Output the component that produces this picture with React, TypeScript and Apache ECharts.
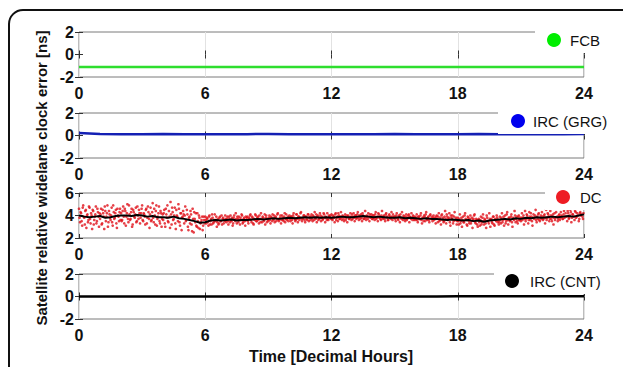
import React, { useEffect, useRef } from "react";
import * as echarts from "echarts";

const HOURS = [0, 1, 2, 3, 4, 5, 6, 7, 8, 9, 10, 11, 12, 13, 14, 15, 16, 17, 18, 19, 20, 21, 22, 23, 24];
const X_TICKS = [0, 6, 12, 18, 24];

const FCB = [-1.1, -1.1, -1.1, -1.1, -1.1, -1.1, -1.1, -1.1, -1.1, -1.1, -1.1, -1.1, -1.1, -1.1, -1.1, -1.1, -1.1, -1.1, -1.1, -1.1, -1.1, -1.1, -1.1, -1.1, -1.1];
const IRC_GRG = [0.22, 0.13, 0.12, 0.12, 0.13, 0.12, 0.11, 0.12, 0.12, 0.13, 0.12, 0.12, 0.11, 0.12, 0.12, 0.13, 0.12, 0.12, 0.12, 0.13, 0.12, 0.12, 0.11, 0.12, 0.13];
const IRC_CNT = [0.0, 0.01, 0.0, 0.0, 0.01, 0.0, 0.0, 0.01, 0.0, 0.0, 0.01, 0.0, 0.0, 0.01, 0.0, 0.01, 0.0, 0.01, 0.03, 0.02, 0.03, 0.02, 0.03, 0.02, 0.03];

const DC_MEAN_STEP = 0.25;
const DC_MEAN = [
  4.0, 3.9, 3.85, 3.9,
  3.95, 3.8, 3.85, 3.95,
  4.0, 4.0, 3.95, 4.05,
  4.0, 3.9, 3.95, 3.85,
  3.85, 3.8, 3.9, 3.75,
  3.7, 3.6, 3.5, 3.35,
  3.4, 3.55, 3.6, 3.55,
  3.6, 3.65, 3.55, 3.6,
  3.6, 3.65, 3.7, 3.65,
  3.7, 3.75, 3.7, 3.75,
  3.8, 3.75, 3.8, 3.85,
  3.8, 3.85, 3.8, 3.85,
  3.8, 3.85, 3.9, 3.85,
  3.85, 3.9, 3.95, 3.9,
  3.85, 3.9, 3.85, 3.8,
  3.8, 3.85, 3.75, 3.8,
  3.75, 3.7, 3.75, 3.7,
  3.7, 3.65, 3.6, 3.65,
  3.6, 3.55, 3.6, 3.5,
  3.55, 3.45, 3.55, 3.6,
  3.65, 3.7, 3.65, 3.75,
  3.7, 3.8, 3.75, 3.85,
  3.8, 3.85, 3.9, 3.85,
  3.9, 3.95, 3.9, 4.0,
  4.1,
];

// red DC samples, one row per hour, 20 samples per hour (every 3 min)
const DC_SCATTER_STEP = 0.05;
const DC_SCATTER_A = [
  [4.6, 3.4, 4.2, 3.1, 4.9, 3.8, 4.4, 2.9, 4.1, 3.6, 4.7, 3.3, 4.0, 4.5, 3.2, 3.9, 4.8, 3.5, 4.3, 3.0],
  [3.7, 4.6, 3.3, 4.2, 2.8, 4.4, 3.9, 4.9, 3.4, 4.1, 3.6, 4.7, 3.1, 4.3, 3.8, 4.5, 2.9, 4.0, 3.5, 4.6],
  [4.2, 3.6, 4.8, 3.3, 4.4, 3.9, 5.0, 3.4, 4.1, 3.7, 4.6, 3.2, 4.3, 3.8, 4.7, 3.5, 4.0, 4.5, 3.3, 4.2],
  [4.9, 3.5, 4.1, 3.2, 4.6, 3.8, 4.3, 2.9, 4.7, 3.6, 5.1, 3.4, 4.0, 4.4, 3.1, 3.9, 4.8, 3.3, 4.2, 3.7],
  [3.6, 4.5, 3.0, 4.1, 4.9, 3.4, 3.9, 5.2, 3.2, 4.3, 3.7, 4.7, 2.8, 4.0, 3.5, 4.6, 3.1, 4.2, 3.8, 4.4],
  [3.3, 4.8, 3.6, 4.1, 2.7, 3.9, 4.4, 3.2, 4.6, 2.5, 3.7, 4.2, 3.0, 3.5, 4.0, 2.8, 3.4, 3.9, 3.1, 3.6],
  [3.9, 3.3, 3.7, 3.1, 4.0, 3.5, 3.2, 3.8, 3.4, 4.1, 3.6, 3.0, 3.7, 3.3, 3.9, 3.5, 3.2, 3.8, 3.6, 4.0],
  [3.4, 3.9, 3.2, 3.7, 4.0, 3.5, 3.1, 3.8, 3.6, 4.2, 3.3, 3.7, 3.9, 3.2, 3.6, 4.0, 3.4, 3.8, 3.1, 3.6],
  [3.9, 3.3, 3.7, 4.1, 3.4, 3.8, 3.2, 3.6, 4.0, 3.5, 3.9, 3.3, 3.7, 4.2, 3.4, 3.8, 3.6, 3.2, 4.0, 3.7],
  [3.5, 4.0, 3.3, 3.8, 4.1, 3.6, 3.4, 3.9, 3.7, 4.2, 3.5, 3.8, 3.3, 4.0, 3.6, 3.9, 3.4, 4.1, 3.7, 3.5],
  [4.0, 3.5, 3.9, 3.3, 4.2, 3.7, 3.6, 4.1, 3.4, 3.9, 3.8, 4.3, 3.5, 3.7, 4.0, 3.4, 3.9, 3.6, 4.1, 3.8],
  [3.6, 4.1, 3.5, 3.9, 4.3, 3.7, 3.4, 4.0, 3.8, 4.2, 3.5, 3.9, 3.7, 4.1, 3.4, 3.8, 4.2, 3.6, 3.9, 4.0],
  [4.1, 3.6, 3.9, 3.4, 4.2, 3.8, 3.5, 4.0, 3.7, 4.3, 3.6, 3.9, 3.5, 4.1, 3.8, 3.4, 4.0, 3.7, 4.2, 3.6],
  [3.7, 4.2, 3.5, 4.0, 3.8, 4.3, 3.6, 3.9, 4.1, 3.5, 4.0, 3.7, 4.4, 3.6, 3.9, 4.2, 3.5, 3.8, 4.1, 3.7],
  [4.0, 3.6, 4.3, 3.8, 3.5, 4.1, 3.9, 3.6, 4.4, 3.7, 4.0, 3.5, 4.2, 3.8, 3.6, 4.1, 3.9, 4.3, 3.6, 3.8],
  [3.9, 3.5, 4.2, 3.7, 4.0, 3.4, 3.8, 4.3, 3.6, 3.9, 3.5, 4.1, 3.7, 4.0, 3.4, 3.8, 4.2, 3.6, 3.9, 3.7],
  [3.6, 4.1, 3.4, 3.9, 3.7, 4.2, 3.3, 3.8, 4.0, 3.5, 4.3, 3.6, 3.9, 3.4, 4.1, 3.7, 3.5, 4.0, 3.8, 3.3],
  [4.0, 3.4, 4.2, 3.6, 3.2, 4.1, 3.8, 3.5, 4.4, 3.3, 3.9, 3.7, 4.2, 3.1, 3.8, 4.0, 3.5, 4.3, 3.6, 3.2],
  [3.8, 3.2, 4.1, 3.5, 3.0, 3.9, 3.4, 4.2, 3.6, 3.1, 3.8, 3.3, 4.0, 3.5, 2.9, 3.7, 4.1, 3.3, 3.6, 3.0],
  [3.7, 3.1, 3.9, 3.4, 4.1, 3.2, 3.6, 2.9, 3.8, 3.5, 4.2, 3.0, 3.7, 3.3, 3.9, 3.1, 3.6, 4.0, 3.4, 3.2],
  [3.9, 3.3, 4.2, 3.6, 3.1, 4.0, 3.5, 4.3, 3.2, 3.8, 3.6, 4.1, 3.0, 3.7, 4.4, 3.4, 3.9, 3.3, 4.0, 3.6],
  [3.5, 4.2, 3.8, 3.2, 4.4, 3.7, 4.0, 3.3, 4.3, 3.6, 3.9, 3.1, 4.1, 3.8, 4.5, 3.4, 3.7, 4.2, 3.5, 4.0],
  [4.3, 3.6, 4.0, 3.3, 4.5, 3.8, 4.1, 3.5, 4.4, 3.7, 3.9, 3.2, 4.2, 3.8, 4.6, 3.5, 4.0, 3.6, 4.3, 3.9],
  [3.7, 4.4, 3.9, 4.6, 3.5, 4.2, 3.8, 4.5, 3.4, 4.1, 4.7, 3.6, 4.3, 3.9, 4.8, 3.5, 4.2, 4.0, 4.6, 3.7],
];
// second set of samples, half a step later in each hour
const DC_SCATTER_B = [
  [3.8, 4.3, 3.5, 4.7, 3.9, 3.2, 4.5, 4.0, 3.4, 4.8, 3.7, 4.2, 2.8, 4.4, 3.6, 4.1, 3.3, 4.6, 3.9, 4.2],
  [4.1, 3.2, 4.5, 3.9, 4.8, 3.5, 4.2, 3.0, 4.4, 3.8, 4.0, 3.4, 4.9, 3.7, 4.2, 3.3, 4.6, 3.9, 4.3, 3.6],
  [3.5, 4.4, 3.9, 4.6, 3.1, 4.2, 3.7, 4.9, 3.6, 4.3, 3.0, 4.5, 3.9, 4.1, 3.4, 4.8, 3.7, 4.2, 3.8, 4.6],
  [3.6, 4.2, 3.9, 4.5, 3.3, 4.8, 3.7, 4.1, 3.5, 4.3, 3.8, 4.6, 3.2, 4.9, 3.7, 4.2, 3.5, 4.4, 3.0, 4.1],
  [4.2, 3.3, 4.6, 3.8, 3.5, 4.4, 2.9, 4.1, 4.7, 3.6, 4.0, 3.3, 4.5, 3.9, 5.0, 3.4, 4.2, 2.7, 3.9, 4.1],
  [4.0, 3.5, 4.5, 3.0, 3.8, 3.3, 4.1, 2.6, 3.7, 4.3, 3.4, 3.1, 4.2, 2.9, 3.8, 3.3, 3.6, 2.7, 3.9, 3.3],
  [3.6, 3.8, 3.4, 3.9, 3.2, 3.7, 4.1, 3.3, 3.6, 3.5, 3.9, 3.4, 3.2, 3.8, 3.5, 4.0, 3.7, 3.3, 3.5, 3.7],
  [3.7, 3.5, 3.9, 3.4, 3.6, 3.8, 3.3, 4.0, 3.5, 3.7, 3.9, 3.4, 3.6, 3.8, 4.1, 3.3, 3.7, 3.5, 3.9, 3.8],
  [3.5, 3.8, 4.0, 3.6, 3.9, 3.3, 3.7, 4.1, 3.5, 3.8, 3.6, 4.0, 3.4, 3.7, 3.9, 3.5, 4.1, 3.8, 3.4, 3.6],
  [3.8, 3.6, 3.9, 3.5, 3.7, 4.0, 3.8, 3.5, 4.1, 3.6, 3.7, 4.0, 3.6, 3.8, 3.5, 4.2, 3.7, 3.6, 3.9, 3.8],
  [3.7, 3.9, 3.6, 4.0, 3.8, 3.5, 4.1, 3.7, 3.9, 3.6, 4.2, 3.7, 3.8, 4.0, 3.6, 3.9, 3.7, 4.1, 3.5, 3.9],
  [3.9, 3.7, 4.0, 3.6, 3.8, 4.1, 3.9, 3.6, 3.7, 4.0, 3.8, 3.6, 4.2, 3.8, 3.9, 3.6, 3.7, 4.0, 3.8, 3.7],
  [3.7, 4.0, 3.8, 4.1, 3.6, 3.9, 4.2, 3.7, 3.9, 3.8, 4.0, 3.7, 3.9, 3.6, 4.0, 3.9, 3.7, 3.8, 3.9, 4.1],
  [3.9, 3.8, 4.0, 3.7, 4.1, 3.8, 4.0, 3.7, 3.8, 4.2, 3.7, 3.9, 3.8, 4.0, 3.7, 3.9, 4.1, 3.9, 3.7, 4.0],
  [3.8, 4.1, 3.7, 3.9, 4.2, 3.8, 3.7, 4.0, 3.8, 3.9, 3.7, 4.1, 3.9, 3.6, 4.0, 3.8, 3.7, 3.9, 4.1, 3.9],
  [3.7, 4.0, 3.8, 3.6, 3.9, 4.1, 3.7, 3.8, 4.0, 3.7, 3.9, 3.6, 3.8, 4.1, 3.9, 3.7, 3.8, 4.0, 3.6, 3.9],
  [3.8, 3.6, 3.9, 3.7, 4.0, 3.6, 3.8, 3.5, 3.9, 4.1, 3.7, 3.8, 3.6, 4.0, 3.7, 3.9, 3.8, 3.6, 3.7, 3.9],
  [3.7, 3.9, 3.5, 3.8, 4.0, 3.6, 3.4, 3.9, 3.7, 4.1, 3.6, 3.8, 3.4, 4.0, 3.7, 3.3, 3.9, 3.6, 3.8, 3.5],
  [3.5, 3.7, 3.3, 3.8, 3.6, 3.4, 4.0, 3.7, 3.2, 3.9, 3.5, 3.7, 3.3, 3.8, 3.6, 4.0, 3.4, 3.7, 3.2, 3.6],
  [3.4, 3.6, 3.2, 3.8, 3.5, 3.7, 3.3, 4.0, 3.5, 3.3, 3.7, 3.6, 3.4, 3.9, 3.2, 3.7, 3.5, 3.8, 3.6, 3.4],
  [3.6, 3.8, 3.4, 3.9, 3.7, 3.3, 4.1, 3.6, 3.8, 3.5, 3.9, 3.4, 3.8, 3.6, 4.0, 3.7, 3.5, 3.9, 3.6, 3.8],
  [3.8, 3.6, 4.0, 3.7, 3.5, 4.1, 3.8, 3.6, 3.9, 4.2, 3.5, 3.8, 3.7, 4.0, 3.6, 3.9, 4.1, 3.6, 3.8, 3.7],
  [3.9, 3.7, 4.1, 3.8, 3.6, 4.2, 3.9, 3.7, 4.0, 3.5, 4.1, 3.8, 3.6, 4.3, 3.9, 3.7, 4.1, 3.8, 4.0, 3.7],
  [4.1, 3.8, 4.2, 3.9, 4.4, 3.7, 4.0, 4.3, 3.8, 4.1, 3.9, 4.4, 3.8, 4.2, 4.0, 3.7, 4.3, 4.1, 3.9, 4.2],
];

const FONT = "'Liberation Sans', Arial, Helvetica, sans-serif";
const GRID_TOPS = [32, 113, 193, 274];
const GRID_LEFT = 79;
const GRID_WIDTH = 505;
const GRID_HEIGHT = 45;
const Y_RANGES = [
  [-2, 2],
  [-2, 2],
  [2, 6],
  [-2, 2],
];

export default function App() {
  const ref = useRef<HTMLDivElement>(null);

  useEffect(() => {
    if (!ref.current) return;
    const chart = echarts.init(ref.current, undefined, { renderer: "svg" });

    const grids = GRID_TOPS.map((top) => ({
      left: GRID_LEFT,
      top,
      width: GRID_WIDTH,
      height: GRID_HEIGHT,
      show: true,
      borderColor: "#7a7a7a",
      borderWidth: 1,
      backgroundColor: "transparent",
      containLabel: false,
    }));

    const xAxes: any[] = [];
    const yAxes: any[] = [];
    GRID_TOPS.forEach((_, i) => {
      xAxes.push({
        type: "value",
        gridIndex: i,
        position: "bottom",
        min: X_TICKS[0],
        max: X_TICKS[X_TICKS.length - 1],
        interval: 6,
        axisLine: { show: false },
        axisTick: { show: true, inside: true, length: 4, lineStyle: { color: "#333" } },
        axisLabel: { show: true, margin: 8, color: "#111", fontSize: 16, fontWeight: "bold", fontFamily: FONT },
        splitLine: { show: true, lineStyle: { color: "#e2e2e2", width: 1 } },
      });
      xAxes.push({
        type: "value",
        gridIndex: i,
        position: "top",
        min: X_TICKS[0],
        max: X_TICKS[X_TICKS.length - 1],
        interval: 6,
        axisLine: { show: false },
        axisTick: { show: true, inside: true, length: 4, lineStyle: { color: "#333" } },
        axisLabel: { show: false },
        splitLine: { show: false },
      });
      const [mn, mx] = Y_RANGES[i];
      yAxes.push({
        type: "value",
        gridIndex: i,
        position: "left",
        min: mn,
        max: mx,
        interval: 2,
        axisLine: { show: false },
        axisTick: { show: true, inside: true, length: 4, lineStyle: { color: "#333" } },
        axisLabel: { show: true, margin: 5, color: "#111", fontSize: 16, fontWeight: "bold", fontFamily: FONT },
        splitLine: { show: false },
      });
      yAxes.push({
        type: "value",
        gridIndex: i,
        position: "right",
        min: mn,
        max: mx,
        interval: 2,
        axisLine: { show: false },
        axisTick: { show: true, inside: true, length: 4, lineStyle: { color: "#333" } },
        axisLabel: { show: false },
        splitLine: { show: false },
      });
    });

    const scatterData: number[][] = [];
    DC_SCATTER_A.forEach((row, h) => {
      row.forEach((v, j) => scatterData.push([HOURS[h] + j * DC_SCATTER_STEP, v]));
    });
    DC_SCATTER_B.forEach((row, h) => {
      row.forEach((v, j) => scatterData.push([HOURS[h] + (j + 0.5) * DC_SCATTER_STEP, v]));
    });
    const meanData = DC_MEAN.map((v, i) => [i * DC_MEAN_STEP, v]);

    const legends = [
      { name: "FCB", color: "#00ee00", boxX: 535, boxTop: 20, cx: 554, cy: 40, tx: 570 },
      { name: "IRC (GRG)", color: "#0000ee", boxX: 498, boxTop: 104, cx: 518, cy: 121, tx: 533 },
      { name: "DC", color: "#ee1c24", boxX: 545, boxTop: 184, cx: 563, cy: 197, tx: 580 },
      { name: "IRC (CNT)", color: "#000000", boxX: 494, boxTop: 268, cx: 512, cy: 281, tx: 530 },
    ];

    const graphics: any[] = [];
    legends.forEach((l) => {
      graphics.push({
        type: "rect",
        z: 50,
        shape: { x: l.boxX, y: l.boxTop, width: 623 - l.boxX, height: l.cy + 13 - l.boxTop },
        style: { fill: "#ffffff", stroke: "none" },
      });
      graphics.push({
        type: "circle",
        z: 51,
        shape: { cx: l.cx, cy: l.cy, r: 7 },
        style: { fill: l.color, stroke: "none" },
      });
      graphics.push({
        type: "text",
        z: 51,
        x: l.tx,
        y: l.cy,
        style: {
          text: l.name,
          fontSize: 15,
          fontFamily: FONT,
          fill: "#111",
          align: "left",
          verticalAlign: "middle",
          textAlign: "left",
          textVerticalAlign: "middle",
        },
      });
    });
    graphics.push({
      type: "rect",
      z: 60,
      shape: { x: 9, y: 10, width: 700, height: 500, r: 14 },
      style: { fill: "none", stroke: "#111", lineWidth: 2 },
    });
    graphics.push({
      type: "text",
      z: 60,
      x: 41.5,
      y: 178,
      rotation: Math.PI / 2,
      style: {
        text: "Satellite relative widelane clock error [ns]",
        fontSize: 15,
        fontWeight: "bold",
        fontFamily: FONT,
        fill: "#111",
        align: "center",
        verticalAlign: "middle",
        textAlign: "center",
        textVerticalAlign: "middle",
      },
    });
    graphics.push({
      type: "text",
      z: 60,
      x: 331,
      y: 356,
      style: {
        text: "Time [Decimal Hours]",
        fontSize: 16,
        fontWeight: "bold",
        fontFamily: FONT,
        fill: "#111",
        align: "center",
        verticalAlign: "middle",
        textAlign: "center",
        textVerticalAlign: "middle",
      },
    });

    chart.setOption({
      animation: false,
      backgroundColor: "#ffffff",
      grid: grids,
      xAxis: xAxes,
      yAxis: yAxes,
      series: [
        {
          name: "FCB",
          type: "line",
          xAxisIndex: 0,
          yAxisIndex: 0,
          showSymbol: false,
          data: HOURS.map((h, i) => [h, FCB[i]]),
          lineStyle: { color: "#2ede2e", width: 2.5 },
          itemStyle: { color: "#2ede2e" },
        },
        {
          name: "IRC (GRG)",
          type: "line",
          xAxisIndex: 2,
          yAxisIndex: 2,
          showSymbol: false,
          data: HOURS.map((h, i) => [h, IRC_GRG[i]]),
          lineStyle: { color: "#1420b4", width: 2.5 },
          itemStyle: { color: "#1420b4" },
        },
        {
          name: "DC",
          type: "scatter",
          xAxisIndex: 4,
          yAxisIndex: 4,
          symbolSize: 2.7,
          data: scatterData,
          itemStyle: { color: "#e0121a" },
        },
        {
          name: "DC mean",
          type: "line",
          xAxisIndex: 4,
          yAxisIndex: 4,
          showSymbol: false,
          data: meanData,
          lineStyle: { color: "#000000", width: 2 },
          itemStyle: { color: "#000000" },
        },
        {
          name: "IRC (CNT)",
          type: "line",
          xAxisIndex: 6,
          yAxisIndex: 6,
          showSymbol: false,
          data: HOURS.map((h, i) => [h, IRC_CNT[i]]),
          lineStyle: { color: "#000000", width: 2.5 },
          itemStyle: { color: "#000000" },
        },
      ],
      graphic: graphics,
    });

    return () => chart.dispose();
  }, []);

  return <div ref={ref} style={{ position: "absolute", left: 0, top: 0, width: 623, height: 367 }} />;
}
